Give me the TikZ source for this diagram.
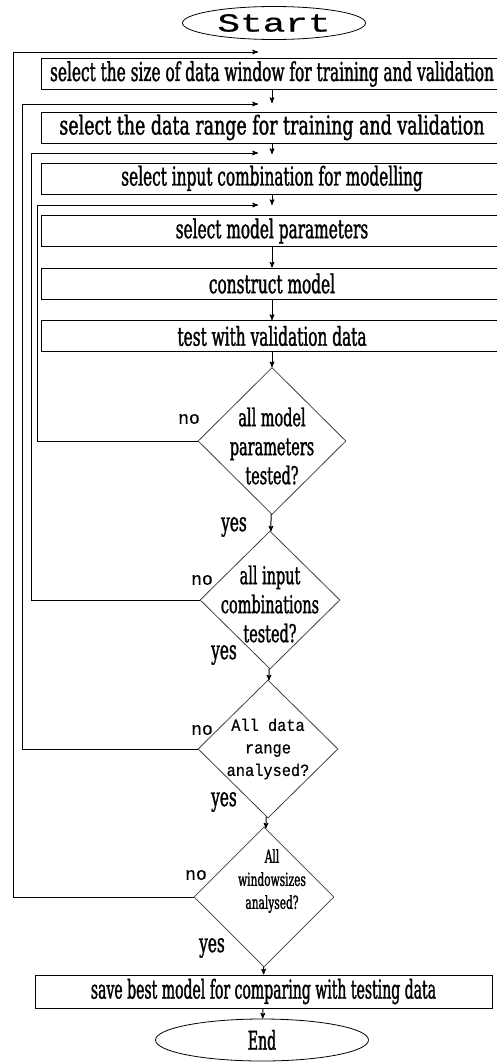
\documentclass[tikz,border=0pt]{standalone}
\usepackage{fontspec}
\usepackage{tikz}
\usetikzlibrary{
  arrows,
  shapes.geometric,
  chains,
  positioning,
  scopes
}
\newfontfamily\condfont[FakeStretch=0.59,FakeBold=1.2]{DejaVu Serif}
\newfontfamily\widecondfont[FakeStretch=0.67,FakeBold=1.2]{DejaVu Serif}
\newfontfamily\slimcondfont[FakeStretch=0.54,FakeBold=1.2]{DejaVu Serif}
\newfontfamily\courfont[FakeBold=0.6]{Liberation Mono}
\newfontfamily\startfont[FakeStretch=1.45,FakeBold=0.6]{Liberation Mono}
\newfontfamily\dcourfont[FakeStretch=0.9,FakeBold=0.6]{Liberation Mono}

\begin{document}
\begin{tikzpicture}[
      x=1pt,y=-1pt,
      process/.style={
         rectangle,
         draw=black,
         minimum width=462pt,
         minimum height=31pt,
         inner sep=0pt,
         font=\condfont\fontsize{26}{28}\selectfont
      },
      decision/.style={
         diamond,
         draw=black!75,
         line width=0.8pt,
         minimum width=140pt,
         minimum height=140pt,
         inner sep=0pt
      },
      dtext/.style={
         align=center,
         inner sep=0pt,
         font=\condfont\fontsize{24.5}{29}\selectfont
      },
      terminal/.style={
         ellipse,
         draw=black,
         line width=0.8pt,
         inner sep=0pt
      },
      answer/.style={
         inner sep=0pt,
         font=\condfont\fontsize{26}{28}\selectfont
      },
      refuse/.style={
         inner sep=0pt,
         font=\courfont\fontsize{18}{20}\selectfont
      },
      point/.style={coordinate},>=stealth',line width=1pt,draw=black,
      tip/.style={->,shorten >=0.007pt},
      hv path/.style={to path={-| (\tikztotarget)}},
      vh path/.style={to path={|- (\tikztotarget)}},
    ]
    \useasboundingbox (0,0) rectangle (496,1063);
    % main column
    \node (start) [terminal, minimum width=183pt, minimum height=33pt,
       font=\startfont\fontsize{26}{28}\selectfont] at (274,23) {Start};
    \node (size) [process] at (272,74) {select the size of data window for training and validation};
    \node (m2) [point] at (272,103) {};
    \node (range) [process, font=\widecondfont\fontsize{26}{28}\selectfont] at (272,127.5) {select the data range for training and validation};
    \node (m3) [point] at (272,154) {};
    \node (input) [process] at (272,178.5) {select input combination for modelling};
    \node (m4) [point] at (272,205) {};
    \node (param) [process] at (272,231) {select model parameters};
    \node (build) [process] at (272,283.5) {construct model};
    \node (valid) [process] at (272,336) {test with validation data};
    \node (dparam) [decision, minimum width=148pt, minimum height=147pt,
       label={[dtext, yshift=-5pt]center:all model\\parameters\\tested?}] at (272,441) {};
    \node (dinput) [decision, minimum height=138pt,
       label={[dtext, yshift=-4pt]center:all input\\combinations\\tested?}] at (270,600) {};
    \node (drange) [decision, minimum height=138pt,
       label={[dtext, font=\dcourfont\fontsize{17}{22.5}\selectfont]center:All data\\range\\analysed?}] at (268,749) {};
    \node (dwin) [decision,
       label={[dtext, xshift=8pt, yshift=16pt, font=\condfont\fontsize{18}{23}\selectfont]center:All\\windowsizes\\analysed?}] at (264,897) {};
    \node (save) [process, minimum width=457pt, minimum height=33pt,
       font=\slimcondfont\fontsize{26}{28}\selectfont] at (263.5,991.5) {save best model for comparing with testing data};
    \node (stop) [terminal, minimum width=213pt, minimum height=42pt,
       font=\slimcondfont\fontsize{26}{28}\selectfont] at (262,1040) {End};
    % loop corners
    \node (c1a) [point] at (13,52) {};
    \node (c1b) [point] at (258,52) {};
    \node (c2a) [point] at (22,104) {};
    \node (c2b) [point] at (258,104) {};
    \node (c3a) [point] at (31,153) {};
    \node (c3b) [point] at (258,153) {};
    \node (c4a) [point] at (37,205) {};
    \node (c4b) [point] at (258,205) {};
    % answers
    \node (no1) [refuse] at (189,419) {no};
    \node (no2) [refuse] at (202,580) {no};
    \node (no3) [refuse] at (202,730) {no};
    \node (no4) [refuse] at (196,875) {no};
    \node (yes1) [answer] at (234,527) {yes};
    \node (yes2) [answer] at (224,655) {yes};
    \node (yes3) [answer] at (224,802) {yes};
    \node (yes4) [answer] at (212,948) {yes};
  { [start chain]
       \chainin (size);
       \chainin (m2)    [join=by tip];
  }
  { [start chain]
       \chainin (range);
       \chainin (m3)    [join=by tip];
  }
  { [start chain]
       \chainin (input);
       \chainin (m4)    [join=by tip];
  }
  { [start chain]
       \chainin (param);
       \chainin (build)    [join=by tip];
       \chainin (valid)    [join=by tip];
       \chainin (dparam)    [join=by tip];
       \chainin (dinput)    [join=by tip];
       \chainin (drange)    [join=by tip];
       \chainin (dwin)    [join=by tip];
       \chainin (save)    [join=by tip];
       \chainin (stop)    [join=by tip];
  }
  { [start chain]
       \chainin (dparam);
       \chainin (c4a)    [join=by hv path];
       \chainin (c4b)    [join=by tip];
  }
  { [start chain]
       \chainin (dinput);
       \chainin (c3a)    [join=by hv path];
       \chainin (c3b)    [join=by tip];
  }
  { [start chain]
       \chainin (drange);
       \chainin (c2a)    [join=by hv path];
       \chainin (c2b)    [join=by tip];
  }
  { [start chain]
       \chainin (dwin);
       \chainin (c1a)    [join=by hv path];
       \chainin (c1b)    [join=by tip];
  }
\end{tikzpicture}
\end{document}
